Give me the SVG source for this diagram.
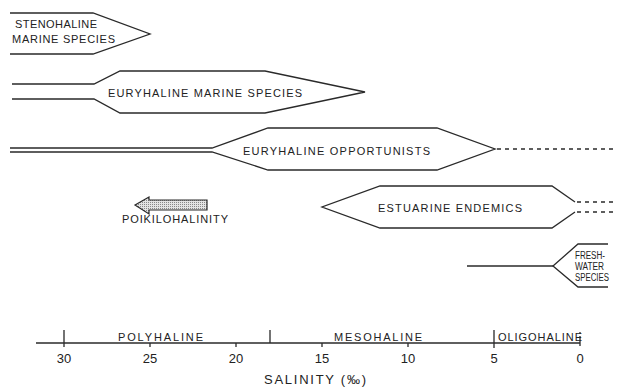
<svg xmlns="http://www.w3.org/2000/svg" width="628" height="387" viewBox="0 0 628 387">
<defs>
<pattern id="stipple" width="2" height="2" patternUnits="userSpaceOnUse">
<rect width="2" height="2" fill="#e4e4e4"/>
<rect width="1" height="1" fill="#888"/>
</pattern>
<style>
.ln{fill:none;stroke:#2a2a2a;stroke-width:1.3;stroke-linejoin:miter}
.dash{fill:none;stroke:#2a2a2a;stroke-width:1.3;stroke-dasharray:4 4}
.t{font-family:"Liberation Sans","DejaVu Sans",Arial,sans-serif;fill:#222;font-size:11px}
.fw{font-family:"Liberation Sans","DejaVu Sans",Arial,sans-serif;fill:#222;font-size:10px}
.ax{font-family:"Liberation Sans","DejaVu Sans",Arial,sans-serif;fill:#222;font-size:13px;text-anchor:middle}
.sal{font-family:"Liberation Sans","DejaVu Sans",Arial,sans-serif;fill:#222;font-size:13px}
</style>
</defs>
<rect width="628" height="387" fill="#fff"/>

<g id="stenohaline">
<path class="ln" d="M10,13 H93 L150,34 L93,54 H10"/>
<text class="t" x="15" y="28" textLength="82" lengthAdjust="spacing">STENOHALINE</text>
<text class="t" x="12" y="43" textLength="103" lengthAdjust="spacing">MARINE SPECIES</text>
</g>

<g id="euryhaline-marine">
<path class="ln" d="M12,84 H94 L120,71 H265 L365,92 L265,113 H120 L94,99 H12"/>
<text class="t" x="108" y="97" textLength="194" lengthAdjust="spacing">EURYHALINE MARINE SPECIES</text>
</g>

<g id="euryhaline-opportunists">
<path class="ln" d="M10,148 H212 L268,128 H437 L495,149 L437,170 H268 L212,152 H10"/>
<text class="t" x="243" y="155" textLength="187" lengthAdjust="spacing">EURYHALINE OPPORTUNISTS</text>
</g>

<g id="estuarine-endemics">
<path class="ln" d="M575,202 L552,186 H380 L322,207 L380,228 H552 L575,212"/>
<text class="t" x="378" y="212" textLength="144" lengthAdjust="spacing">ESTUARINE ENDEMICS</text>
</g>

<g id="freshwater">
<path class="ln" d="M608,244 H578 L553,266 L578,287 H608"/>
<text class="fw" x="575" y="259" textLength="30" lengthAdjust="spacingAndGlyphs">FRESH-</text>
<text class="fw" x="575" y="270" textLength="29" lengthAdjust="spacingAndGlyphs">WATER</text>
<text class="fw" x="575" y="281" textLength="34" lengthAdjust="spacingAndGlyphs">SPECIES</text>
</g>

<g id="poikilohalinity">
<path d="M135,205 L149,197 V200 H207 V210 H149 V214 Z" fill="url(#stipple)" stroke="#2a2a2a" stroke-width="1.2"/>
<text class="t" x="122" y="223" textLength="106" lengthAdjust="spacing">POIKILOHALINITY</text>
</g>

<g id="connectors">
<path class="dash" d="M497,149 H613"/>
<path class="dash" d="M577,202 H613"/>
<path class="dash" d="M577,212 H613"/>
<path class="ln" d="M467,266 H553"/>
</g>

<g id="axis">
<path class="ln" d="M36,343 H580"/>
<path class="ln" d="M64,330 V347 M270,330 V343 M494,330 V348 M580,336 V346 M580,332 V334 M150,343 V347 M236,343 V347 M322,343 V347 M408,343 V347"/>
<text class="t" x="118" y="341" textLength="85" lengthAdjust="spacing">POLYHALINE</text>
<text class="t" x="334" y="341" textLength="88" lengthAdjust="spacing">MESOHALINE</text>
<text class="t" x="498" y="341" textLength="84" lengthAdjust="spacing">OLIGOHALINE</text>
<text class="ax" x="64" y="363">30</text>
<text class="ax" x="150" y="363">25</text>
<text class="ax" x="236" y="363">20</text>
<text class="ax" x="322" y="363">15</text>
<text class="ax" x="408" y="363">10</text>
<text class="ax" x="494" y="363">5</text>
<text class="ax" x="580" y="363">0</text>
<text class="sal" x="264" y="384" textLength="102" lengthAdjust="spacing">SALINITY (‰)</text>
</g>
</svg>
